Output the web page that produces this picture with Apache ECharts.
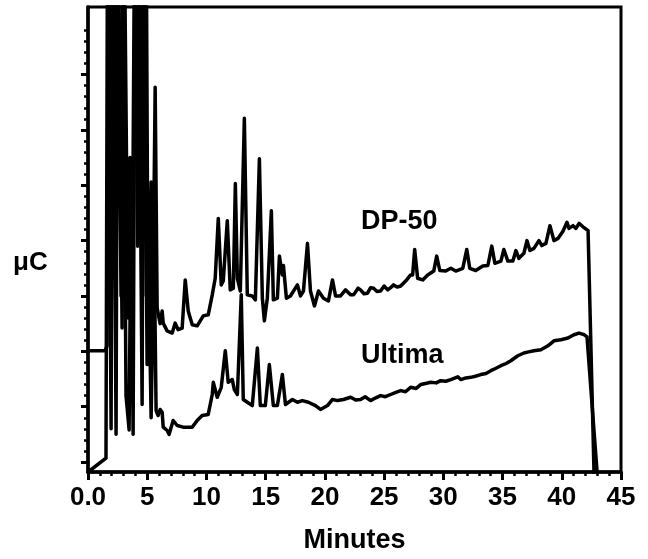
<!DOCTYPE html>
<html>
<head>
<meta charset="utf-8">
<script src="https://cdn.jsdelivr.net/npm/echarts@6/dist/echarts.min.js"></script>
<style>html,body{margin:0;padding:0;background:#fff;}#c{width:648px;height:559px;}</style>
</head>
<body>
<div id="c"></div>
<script>
// Retention time (minutes) and detector response (arbitrary μC units)
var dp50Time = [0, 1.44, 1.61, 1.74, 1.86, 2.0, 2.12, 2.25, 2.37, 2.5, 2.66, 2.88, 3.05, 3.17, 3.38, 3.55, 3.72, 3.94, 4.06, 4.19, 4.36, 4.5, 4.62, 4.74, 4.91, 5.08, 5.33, 5.45, 5.67, 5.84, 6.09, 6.26, 6.35, 6.68, 7.11, 7.36, 7.61, 7.95, 8.21, 8.46, 8.8, 9.22, 9.73, 10.15, 10.49, 10.74, 11.0, 11.25, 11.42, 11.76, 12.01, 12.27, 12.44, 12.61, 12.86, 13.2, 13.45, 13.87, 14.13, 14.47, 14.72, 14.89, 15.14, 15.48, 15.65, 15.99, 16.16, 16.41, 16.5, 16.75, 17.09, 17.68, 17.94, 18.19, 18.53, 18.78, 19.12, 19.46, 19.88, 20.3, 20.64, 20.9, 21.32, 21.74, 22.17, 22.42, 22.8, 23.01, 23.3, 23.6, 23.86, 24.11, 24.4, 24.7, 25.0, 25.3, 25.55, 25.8, 26.1, 26.4, 26.82, 27.24, 27.41, 27.58, 27.83, 28.26, 28.68, 29.19, 29.44, 29.7, 30.2, 30.63, 31.05, 31.64, 31.98, 32.23, 32.74, 33.33, 33.76, 34.09, 34.35, 34.86, 35.11, 35.45, 35.87, 36.13, 36.38, 36.8, 37.06, 37.31, 37.65, 38.07, 38.32, 38.66, 39.0, 39.34, 39.68, 40.1, 40.44, 40.61, 40.95, 41.2, 41.46, 41.79, 42.22, 42.72, 42.8];
var dp50Value = [20.1, 20.1, 21, 100, 100, 34.5, 100, 100, 30, 100, 100, 24.2, 100, 100, 26, 55, 24.5, 100, 100, 39, 100, 100, 30, 100, 100, 19.5, 50.6, 22, 67.7, 27.8, 25, 27.3, 25.1, 23.7, 23.3, 25.1, 23.9, 24.2, 32.9, 27.3, 24.8, 24.6, 26.4, 26.6, 30.2, 33.2, 44.0, 32.0, 32.7, 43.6, 31.1, 31.4, 50.3, 33.2, 30.9, 62.1, 30.2, 30.0, 29.3, 54.8, 29.6, 25.5, 29.6, 45.4, 29.3, 29.6, 37.2, 33.8, 35.5, 29.6, 30.0, 32.0, 30.0, 30.9, 39.5, 30.9, 28.2, 30.9, 29.6, 29.1, 32.9, 30.0, 30.0, 31.1, 30.2, 30.2, 31.4, 31.1, 30.4, 30.5, 31.5, 31.4, 30.8, 30.9, 31.8, 31.1, 31.5, 32.0, 31.6, 31.8, 32.7, 33.8, 33.8, 38.4, 33.2, 32.9, 33.8, 34.5, 37.2, 34.6, 34.5, 35.0, 34.5, 35.0, 38.4, 35.0, 34.6, 35.4, 35.5, 39.0, 35.9, 36.3, 38.4, 36.3, 36.3, 38.2, 36.8, 37.7, 40.0, 38.2, 38.6, 40.0, 39.1, 39.5, 42.7, 40.0, 40.4, 41.7, 43.3, 42.2, 42.7, 42.2, 43.1, 42.5, 41.8, -1.8, -5];
var ultimaTime = [0, 1.52, 1.61, 1.65, 1.78, 1.95, 2.08, 2.2, 2.37, 2.5, 2.62, 2.79, 2.92, 3.05, 3.21, 3.47, 3.64, 3.81, 3.98, 4.23, 4.57, 4.7, 4.82, 4.99, 5.16, 5.33, 5.58, 5.75, 5.92, 6.09, 6.26, 6.35, 6.68, 6.85, 7.19, 7.53, 8.04, 8.8, 9.22, 9.64, 10.15, 10.49, 10.58, 10.91, 11.25, 11.59, 11.84, 12.18, 12.35, 12.61, 12.94, 13.11, 13.45, 13.87, 14.3, 14.55, 14.97, 15.31, 15.65, 15.99, 16.41, 16.67, 17.26, 17.68, 18.1, 18.61, 19.2, 19.63, 20.22, 20.64, 21.07, 21.57, 22.17, 22.6, 23.01, 23.4, 23.86, 24.3, 24.7, 25.1, 25.55, 26.0, 26.4, 26.8, 27.24, 27.7, 28.09, 28.5, 28.93, 29.4, 29.78, 30.2, 30.63, 31.22, 31.47, 31.9, 32.32, 32.7, 33.16, 33.6, 34.01, 34.4, 34.86, 35.3, 35.7, 36.29, 36.8, 37.2, 37.65, 38.24, 38.83, 39.34, 39.93, 40.52, 41.03, 41.46, 41.88, 42.13, 42.98, 43.05];
var ultimaValue = [-1.8, 0.7, 0.7, 100, 100, 6, 100, 100, 5.0, 100, 100, 30, 100, 100, 12, 5.8, 50, 5.0, 100, 100, 10.4, 100, 100, 17.6, 30, 8, 40, 9.3, 8.4, 9.5, 9.0, 6.3, 5.7, 5.0, 7.5, 6.6, 6.3, 6.3, 7.5, 8.4, 8.6, 12.2, 14.4, 11.7, 13.5, 20.1, 14.4, 14.9, 13.1, 12.2, 30.2, 11.3, 10.8, 10.2, 20.6, 10.2, 10.2, 17.6, 10.2, 10.2, 15.8, 10.4, 11.3, 10.8, 11.1, 10.8, 10.2, 9.5, 10.2, 11.3, 11.1, 11.3, 11.7, 11.2, 11.3, 11.8, 11.1, 11.6, 12.0, 11.8, 12.2, 12.6, 12.9, 12.7, 13.5, 13.3, 14.0, 14.2, 14.4, 14.3, 14.7, 14.6, 14.9, 15.4, 14.9, 15.2, 15.3, 15.5, 15.8, 16.0, 16.5, 16.9, 17.4, 17.8, 18.3, 19.2, 19.7, 19.9, 20.1, 20.3, 21.0, 21.9, 22.1, 22.4, 23.0, 23.3, 23.0, 22.6, -1.8, -5];
var xTicks = [0, 5, 10, 15, 20, 25, 30, 35, 40, 45];
var yMajorTicks = [0, 10, 20, 30, 40, 50, 60, 70];
var yMinorTicks = [2, 4, 6, 8, 12, 14, 16, 18, 22, 24, 26, 28, 32, 34, 36, 38, 42, 44, 46, 48, 52, 54, 56, 58, 62, 64, 66, 68, 72, 74, 76, 78];
var seriesNames = ['DP-50', 'Ultima'];

function pairs(t, v) { return t.map(function (x, i) { return [x, v[i]]; }); }

var FONT = "'Liberation Sans', Arial, sans-serif";
var chart = echarts.init(document.getElementById('c'), null, { renderer: 'canvas' });
var yBase = {
  type: 'value', min: -1.8, max: 82.2, position: 'left',
  splitLine: { show: false }, axisLabel: { show: false }
};
chart.setOption({
  animation: false,
  backgroundColor: '#fff',
  grid: { left: 88, right: 27, top: 7, bottom: 84, show: true, borderColor: '#000', borderWidth: 3, backgroundColor: 'transparent' },
  xAxis: {
    type: 'value', min: 0, max: 45, interval: 5,
    axisLine: { show: true, onZero: false, lineStyle: { color: '#000', width: 3.5 } },
    axisTick: { show: true, length: 8, lineStyle: { color: '#000', width: 3 } },
    minorTick: { show: true, splitNumber: 5, length: 4, lineStyle: { color: '#000', width: 2.5 } },
    splitLine: { show: false },
    axisLabel: {
      margin: 13, color: '#000', fontSize: 26, fontWeight: 'bold', fontFamily: FONT,
      customValues: xTicks,
      formatter: function (v) { return v === 0 ? '0.0' : String(v); }
    },
    name: 'Minutes', nameLocation: 'middle', nameGap: 55,
    nameTextStyle: { color: '#000', fontSize: 27, fontWeight: 'bold', fontFamily: FONT }
  },
  yAxis: [
    Object.assign({}, yBase, {
      axisLine: { show: true, onZero: false, lineStyle: { color: '#000', width: 3.5 } },
      axisTick: { show: true, length: 7, customValues: yMajorTicks, lineStyle: { color: '#000', width: 3 } }
    }),
    Object.assign({}, yBase, {
      axisLine: { show: false, onZero: false },
      axisTick: { show: true, length: 4, customValues: yMinorTicks, lineStyle: { color: '#000', width: 2.5 } }
    })
  ],
  graphic: [
    { type: 'text', left: 13, top: 250, style: { text: 'μC', fill: '#000', font: 'bold 26px ' + FONT } },
    { type: 'text', left: 361, top: 208, style: { text: seriesNames[0], fill: '#000', font: 'bold 27px ' + FONT } },
    { type: 'text', left: 361, top: 342, style: { text: seriesNames[1], fill: '#000', font: 'bold 27px ' + FONT } }
  ],
  series: [
    { name: seriesNames[0], type: 'line', data: pairs(dp50Time, dp50Value), showSymbol: false, clip: true,
      lineStyle: { color: '#000', width: 3.5, join: 'round', cap: 'round' }, z: 3 },
    { name: seriesNames[1], type: 'line', data: pairs(ultimaTime, ultimaValue), showSymbol: false, clip: true,
      lineStyle: { color: '#000', width: 3.5, join: 'round', cap: 'round' }, z: 3 }
  ]
});
</script>
</body>
</html>
